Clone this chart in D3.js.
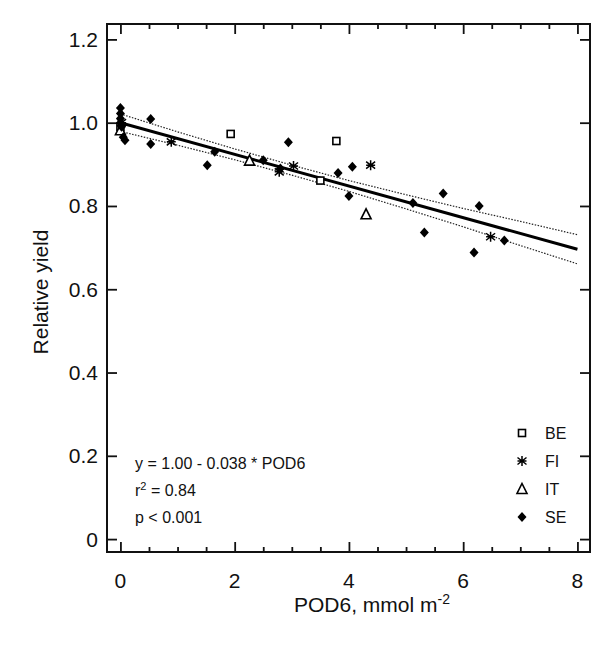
<!DOCTYPE html>
<html>
<head>
    <script src="https://d3js.org/d3.v7.min.js"></script>
    <style>
        body { margin: 0; background: #fff; }
        svg text { font-family: "Liberation Sans", Arial, sans-serif; fill: #111; }
        .frame { fill: none; stroke: #111; stroke-width: 2; }
        .axis path { display: none; }
        .axis line { stroke: #111; stroke-width: 1.8; }
        .ticklabel { font-size: 21px; }
    </style>
</head>
<body>
<div id="chart"></div>
<script>
    // data: [POD6, relative yield]
    const BE = [[0.0, 0.99], [1.93, 0.973], [3.5, 0.861], [3.78, 0.956]];
    const FI = [[0.02, 1.0], [0.89, 0.954], [2.78, 0.882], [3.03, 0.896], [4.38, 0.898], [6.48, 0.726]];
    const IT = [[0.0, 0.982], [2.26, 0.909], [4.3, 0.78]];
    const SE = [[0.0, 1.035], [0.0, 1.022], [0.0, 1.01], [0.0, 1.0], [0.02, 0.99], [0.05, 0.965],
                [0.08, 0.958], [0.53, 1.009], [0.53, 0.949], [1.52, 0.898], [1.65, 0.93], [2.5, 0.91],
                [2.8, 0.89], [2.94, 0.953], [3.81, 0.879], [4.0, 0.824], [4.06, 0.894], [5.12, 0.807],
                [5.32, 0.736], [5.65, 0.83], [6.19, 0.688], [6.28, 0.80], [6.72, 0.717]];

    // regression line and its confidence band
    const fitX = [0, 8];
    const fitY = [1.0, 0.696];
    const bandX = [0, 1, 2, 3, 4, 5, 6, 7, 8];
    const bandUpper = [1.021, 0.978, 0.937, 0.898, 0.861, 0.827, 0.794, 0.763, 0.731];
    const bandLower = [0.979, 0.946, 0.911, 0.874, 0.835, 0.793, 0.750, 0.705, 0.661];

    const xMajor = [0, 2, 4, 6, 8];
    const xMinor = [0.5, 1, 1.5, 2.5, 3, 3.5, 4.5, 5, 5.5, 6.5, 7, 7.5];
    const yMajor = [0, 0.2, 0.4, 0.6, 0.8, 1.0, 1.2];

    const legendKeys = ["BE", "FI", "IT", "SE"];
    const statLines = ["y = 1.00 - 0.038 * POD6", "r2 = 0.84", "p < 0.001"];

    const width = 606, height = 648;
    const pLeft = 107, pRight = 590, pTop = 24, pBottom = 552;

    const x = d3.scaleLinear().domain([-0.235, 8.22]).range([pLeft, pRight]);
    const y = d3.scaleLinear().domain([-0.031, 1.237]).range([pBottom, pTop]);

    const svg = d3.select("#chart").append("svg")
        .attr("width", width)
        .attr("height", height);

    // ticks on all four sides, pointing inwards
    function xTicks(vals, len) {
        svg.append("g").attr("class", "axis")
            .attr("transform", `translate(0,${pBottom})`)
            .call(d3.axisBottom(x).tickValues(vals).tickSize(-len).tickFormat(""));
        svg.append("g").attr("class", "axis")
            .attr("transform", `translate(0,${pTop})`)
            .call(d3.axisTop(x).tickValues(vals).tickSize(-len).tickFormat(""));
    }
    xTicks(xMajor, 10);
    xTicks(xMinor, 5);

    svg.append("g").attr("class", "axis")
        .attr("transform", `translate(${pLeft},0)`)
        .call(d3.axisLeft(y).tickValues(yMajor).tickSize(-10).tickFormat(""));
    svg.append("g").attr("class", "axis")
        .attr("transform", `translate(${pRight},0)`)
        .call(d3.axisRight(y).tickValues(yMajor).tickSize(-10).tickFormat(""));

    svg.append("rect").attr("class", "frame")
        .attr("x", pLeft).attr("y", pTop)
        .attr("width", pRight - pLeft).attr("height", pBottom - pTop);

    // tick labels
    svg.selectAll(".xl").data(xMajor).enter().append("text")
        .attr("class", "ticklabel")
        .attr("x", d => x(d)).attr("y", pBottom + 36)
        .attr("text-anchor", "middle")
        .text(d => d);
    svg.selectAll(".yl").data(yMajor).enter().append("text")
        .attr("class", "ticklabel")
        .attr("x", pLeft - 9).attr("y", d => y(d) + 7.5)
        .attr("text-anchor", "end")
        .text(d => d === 0 ? "0" : d.toFixed(1));

    // axis titles
    svg.append("text")
        .attr("transform", "rotate(-90)")
        .attr("x", -292).attr("y", 48)
        .attr("text-anchor", "middle")
        .style("font-size", "21px")
        .text("Relative yield");

    const xt = svg.append("text")
        .attr("x", 372).attr("y", 612)
        .attr("text-anchor", "middle")
        .style("font-size", "21px");
    xt.append("tspan").text("POD6, mmol m");
    xt.append("tspan").attr("dy", -8).style("font-size", "14px").text("-2");

    // confidence band and fit
    const line = d3.line().x(d => x(d[0])).y(d => y(d[1]));
    [bandUpper, bandLower].forEach(b => {
        svg.append("path")
            .datum(bandX.map((v, i) => [v, b[i]]))
            .attr("d", line)
            .attr("fill", "none")
            .attr("stroke", "#222")
            .attr("stroke-width", 1.2)
            .attr("stroke-dasharray", "1.5,1.5");
    });
    svg.append("path")
        .datum(fitX.map((v, i) => [v, fitY[i]]))
        .attr("d", line)
        .attr("fill", "none")
        .attr("stroke", "#000")
        .attr("stroke-width", 3);

    // markers
    function marker(g, key) {
        if (key === "BE") {
            g.append("rect").attr("x", -3.5).attr("y", -3.5).attr("width", 7).attr("height", 7)
                .attr("fill", "#fff").attr("stroke", "#000").attr("stroke-width", 1.6);
        } else if (key === "FI") {
            g.append("path").attr("d", "M0,-5V5M-4.5,-3.5L4.5,3.5M-4.5,3.5L4.5,-3.5M-4.5,0H4.5")
                .attr("stroke", "#000").attr("stroke-width", 1.5);
        } else if (key === "IT") {
            g.append("path").attr("d", "M0,-5.5L5,4.5H-5Z")
                .attr("fill", "#fff").attr("stroke", "#000").attr("stroke-width", 1.6);
        } else {
            g.append("path").attr("d", "M0,-5L4.5,0L0,5L-4.5,0Z").attr("fill", "#000");
        }
    }

    const series = {BE: BE, FI: FI, IT: IT, SE: SE};
    legendKeys.forEach(k => {
        svg.selectAll(".pt-" + k).data(series[k]).enter().append("g")
            .attr("transform", d => `translate(${x(d[0])},${y(d[1])})`)
            .each(function() { marker(d3.select(this), k); });
    });

    // legend
    legendKeys.forEach((k, i) => {
        const gy = 433 + i * 28;
        marker(svg.append("g").attr("transform", `translate(522,${gy})`), k);
        svg.append("text").attr("x", 545).attr("y", gy + 6)
            .style("font-size", "16px").text(k);
    });

    // statistics
    statLines.forEach((s, i) => {
        const t = svg.append("text").attr("x", 135).attr("y", 469 + i * 27)
            .style("font-size", "16px");
        if (s.startsWith("r2")) {
            t.append("tspan").text("r");
            t.append("tspan").attr("dy", -6).style("font-size", "11px").text("2");
            t.append("tspan").attr("dy", 6).text(s.slice(2));
        } else {
            t.text(s);
        }
    });
</script>
</body>
</html>
